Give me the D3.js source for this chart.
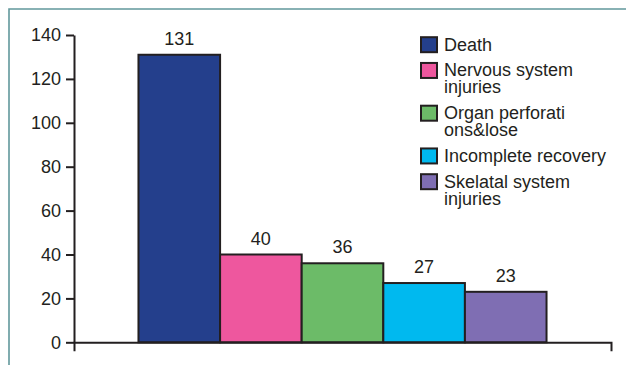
<!DOCTYPE html>
<html>
<head>
<meta charset="utf-8">
<script src="https://cdn.jsdelivr.net/npm/d3@7"></script>
<style>
  html, body { margin: 0; padding: 0; background: #ffffff; }
  svg { display: block; }
  text { font-family: "Liberation Sans", Arial, Helvetica, sans-serif; fill: #231f20; }
</style>
</head>
<body>
<script>
// Outcome categories and case counts
const categories = ["Death", "Nervous system injuries", "Organ perforations&lose", "Incomplete recovery", "Skelatal system injuries"];
const values = [131, 40, 36, 27, 23];
const colors = ["#243f8c", "#ee579e", "#6cbb68", "#00b9ef", "#7f6eb3"];
// Legend text, wrapped as it is printed
const legendLines = [
  ["Death"],
  ["Nervous system", "injuries"],
  ["Organ perforati", "ons&lose"],
  ["Incomplete recovery"],
  ["Skelatal system", "injuries"]
];
const yTicks = [0, 20, 40, 60, 80, 100, 120, 140];

const W = 626, H = 365;
const ink = "#231f20";
const fontSize = 18;

const svg = d3.select("body").append("svg")
  .attr("width", W).attr("height", H);

// Panel frame (open to the right and bottom)
svg.append("path")
  .attr("d", `M9,${H + 5}V9H${W + 5}`)
  .attr("fill", "none")
  .attr("stroke", "#62989c")
  .attr("stroke-width", 1.6);

const x = d3.scaleBand()
  .domain(categories)
  .range([74, 611])
  .paddingInner(0)
  .paddingOuter(0.79);

const y = d3.scaleLinear()
  .domain([0, 140])
  .range([342.3, 35]);

// Bars
svg.append("g").selectAll("rect")
  .data(categories)
  .join("rect")
  .attr("x", d => x(d))
  .attr("y", (d, i) => y(values[i]))
  .attr("width", x.bandwidth())
  .attr("height", (d, i) => y(0) - y(values[i]))
  .attr("fill", (d, i) => colors[i])
  .attr("stroke", ink)
  .attr("stroke-width", 2);

// Value labels
svg.append("g").selectAll("text")
  .data(categories)
  .join("text")
  .attr("x", d => x(d) + x.bandwidth() / 2)
  .attr("y", (d, i) => y(values[i]) - 10)
  .attr("text-anchor", "middle")
  .attr("font-size", fontSize)
  .text((d, i) => values[i]);

// X axis: baseline with end ticks only
const gx = svg.append("g")
  .attr("transform", `translate(0,${y(0)})`)
  .call(d3.axisBottom(x).tickValues([]).tickSizeOuter(9));
gx.select(".domain").attr("stroke", ink).attr("stroke-width", 2);

// Y axis
const gy = svg.append("g")
  .attr("transform", "translate(74,0)")
  .call(d3.axisLeft(y).tickValues(yTicks).tickSize(8).tickSizeOuter(0).tickPadding(5));
gy.select(".domain").attr("stroke", ink).attr("stroke-width", 2);
gy.selectAll(".tick line").attr("stroke", ink).attr("stroke-width", 2);
gy.selectAll(".tick text")
  .attr("font-size", fontSize)
  .attr("font-family", "Liberation Sans, Arial, sans-serif")
  .attr("fill", ink);

// Legend
const lineH = 17, entryGap = 8.75;
let base = 50.7;
const legend = svg.append("g");
legendLines.forEach((lines, i) => {
  const g = legend.append("g");
  g.append("rect")
    .attr("x", 421)
    .attr("y", base - 13.5)
    .attr("width", 16)
    .attr("height", 15)
    .attr("fill", colors[i])
    .attr("stroke", ink)
    .attr("stroke-width", 2);
  lines.forEach((t, j) => {
    g.append("text")
      .attr("x", 444)
      .attr("y", base + j * lineH)
      .attr("font-size", fontSize)
      .text(t);
  });
  base += lines.length * lineH + entryGap;
});
</script>
</body>
</html>
